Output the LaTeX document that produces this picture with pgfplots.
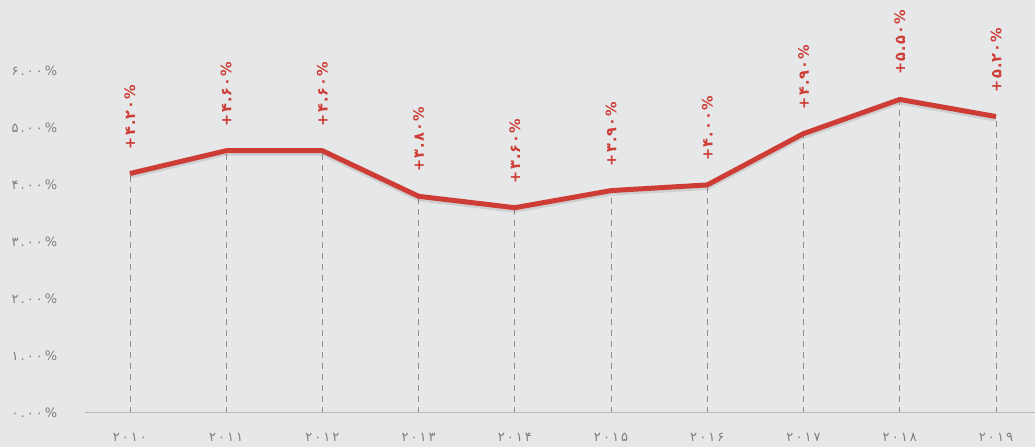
\documentclass[border=0pt]{standalone}
\usepackage{fontspec}
\usepackage{pgfplots}
\pgfplotsset{compat=1.18}
\newfontfamily\fa[LetterSpace=16]{DejaVu Sans}
\newfontfamily\fb[LetterSpace=8]{DejaVu Sans}
\definecolor{bg}{HTML}{E6E7E9}
\definecolor{lred}{HTML}{CE3D35}
\definecolor{tk}{HTML}{7E7E7E}
\definecolor{dashgray}{HTML}{8E8E8E}
\begin{document}
\begin{tikzpicture}
\fill[bg] (0pt,0pt) rectangle (1035pt,447pt);
\begin{axis}[
  at={(85pt,34pt)}, anchor=south west,
  scale only axis, width=950pt, height=379pt,
  xmin=-0.467, xmax=9.4, ymin=0, ymax=6.649,
  axis line style={draw=none}, major tick length=0pt,
  xtick={0,...,9},
  xticklabels={۲۰۱۰,۲۰۱۱,۲۰۱۲,۲۰۱۳,۲۰۱۴,۲۰۱۵,۲۰۱۶,۲۰۱۷,۲۰۱۸,۲۰۱۹},
  ytick={0,...,6},
  yticklabels={۰.۰۰\%,۱.۰۰\%,۲.۰۰\%,۳.۰۰\%,۴.۰۰\%,۵.۰۰\%,۶.۰۰\%},
  xticklabel style={font=\fa\fontsize{13}{15}\selectfont, text=tk, anchor=north, yshift=-17pt},
  yticklabel style={font=\fa\fontsize{13}{15}\selectfont, text=tk, anchor=west, xshift=-77pt},
  clip=false,
]
\addplot[ycomb, dashgray, line width=0.8pt, dash pattern=on 6pt off 5pt] table {
x y
0 4.2
1 4.6
2 4.6
3 3.8
4 3.6
5 3.9
6 4.0
7 4.9
8 5.5
9 5.2
};
\addplot[black, opacity=0.10, line width=5pt, line join=round, yshift=-2.5pt] table {
x y
0 4.2
1 4.6
2 4.6
3 3.8
4 3.6
5 3.9
6 4.0
7 4.9
8 5.5
9 5.2
};
\addplot[lred, line width=5pt, line join=round,
  nodes near coords, point meta=explicit symbolic,
  nodes near coords style={font=\fb\bfseries\fontsize{14.5}{16}\selectfont, text=lred, anchor=west, rotate=90, xshift=22pt, inner sep=0pt}]
  table[meta=lab] {
x y lab
0 4.2 +۴.۲۰\%
1 4.6 +۴.۶۰\%
2 4.6 +۴.۶۰\%
3 3.8 +۳.۸۰\%
4 3.6 +۳.۶۰\%
5 3.9 +۳.۹۰\%
6 4.0 +۴.۰۰\%
7 4.9 +۴.۹۰\%
8 5.5 +۵.۵۰\%
9 5.2 +۵.۲۰\%
};
\draw[gray!55, line width=1pt] (axis cs:-0.467,0) -- (axis cs:9.4,0);
\end{axis}
\end{tikzpicture}
\end{document}
